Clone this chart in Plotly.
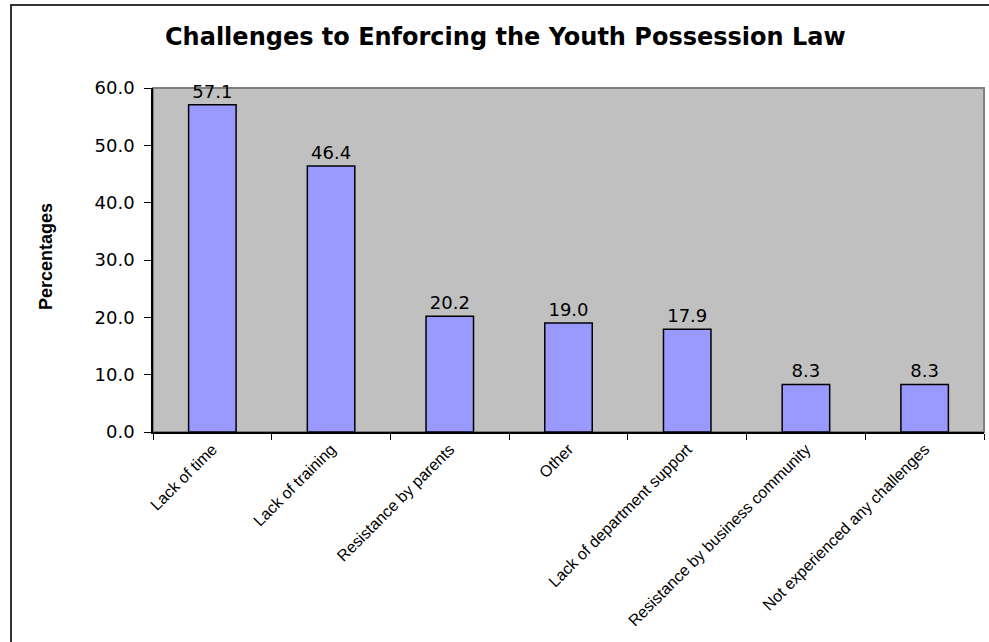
import plotly.graph_objects as go

categories = [
    "Lack of time",
    "Lack of training",
    "Resistance by parents",
    "Other",
    "Lack of department support",
    "Resistance by business community",
    "Not experienced any challenges",
]
values = [57.1, 46.4, 20.2, 19.0, 17.9, 8.3, 8.3]
y_ticks = [0, 10, 20, 30, 40, 50, 60]

W, H = 989, 642
L, R, T, B = 153, 984, 88, 432  # plot area in pixels
pw, ph = R - L, B - T


def px_x(px):
    return (px - L) / pw


def px_y(py):
    return (B - py) / ph


fig = go.Figure(
    go.Bar(
        x=categories,
        y=values,
        width=0.4,
        marker=dict(color="#9999FF", line=dict(color="black", width=1.5)),
        text=[f"{v:.1f}" for v in values],
        textposition="outside",
        textfont=dict(family="DejaVu Sans", size=18, color="black"),
        cliponaxis=False,
    )
)

fig.update_layout(
    width=W,
    height=H,
    margin=dict(l=L, r=W - R, t=T, b=H - B),
    paper_bgcolor="white",
    plot_bgcolor="#C0C0C0",
    showlegend=False,
    xaxis=dict(
        type="category",
        tickson="boundaries",
        ticks="outside",
        ticklen=6,
        tickcolor="black",
        tickangle=-45,
        showline=True,
        linecolor="black",
        linewidth=1.5,
        showgrid=False,
        automargin=False,
        tickfont=dict(family="Liberation Sans, Arial", size=16, color="black"),
    ),
    yaxis=dict(
        range=[0, 60],
        tickvals=y_ticks,
        tickformat=".1f",
        ticks="outside",
        ticklen=7,
        tickcolor="black",
        showline=True,
        linecolor="black",
        linewidth=1.5,
        showgrid=False,
        zeroline=False,
        automargin=False,
        ticklabelstandoff=6,
        tickfont=dict(family="DejaVu Sans", size=18, color="black"),
    ),
    shapes=[
        dict(type="rect", xref="paper", yref="paper", x0=0, x1=1, y0=0, y1=1,
             line=dict(color="#808080", width=2), layer="below"),
        dict(type="rect", xref="paper", yref="paper",
             x0=px_x(11), x1=px_x(1005), y0=px_y(700), y1=px_y(5),
             line=dict(color="#333333", width=2), fillcolor="rgba(0,0,0,0)"),
    ],
    annotations=[
        dict(text="<b>Challenges to Enforcing the Youth Possession Law</b>",
             xref="paper", yref="paper", x=px_x(505), y=px_y(37),
             xanchor="center", yanchor="middle", showarrow=False,
             font=dict(family="DejaVu Sans", size=24, color="black")),
        dict(text="<b>Percentages</b>",
             xref="paper", yref="paper", x=px_x(46), y=px_y(257),
             xanchor="center", yanchor="middle", showarrow=False, textangle=-90,
             font=dict(family="Liberation Sans Narrow, Arial", size=18, color="black")),
    ],
)

fig.write_html("out.html")
